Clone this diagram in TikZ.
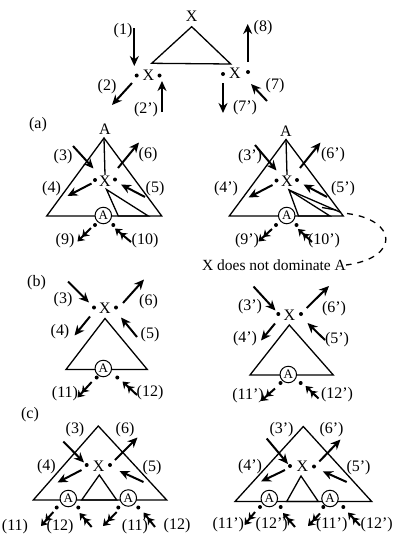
\documentclass[tikz,border=0pt]{standalone}
\usepackage{fontspec}
\setmainfont{Liberation Serif}
\usetikzlibrary{arrows.meta}
\tikzset{
 lbl/.style={inner sep=0pt, font=\fontsize{16}{19}\selectfont},
 tri/.style={line width=1.3pt, line join=miter},
 arr/.style={line width=2pt, -{Stealth[length=10pt,width=9pt]}},
 darr/.style={line width=2pt, -{Stealth[length=6.5pt,width=9pt]Stealth[length=6.5pt,width=9pt]}},
 dotn/.style={circle, fill, inner sep=0pt, minimum size=4pt},
 circA/.style={circle, draw, line width=1pt, fill=white, inner sep=0pt, minimum size=16.5pt, font=\fontsize{13}{15}\selectfont},
}
\newcommand\arw[4][arr]{\coordinate (#2s) at #3; \coordinate (#2e) at #4; \draw[#1] (#2s) -- (#2e);}
\begin{document}
\begin{tikzpicture}[x=1pt,y=-1pt]
\useasboundingbox (0,0) rectangle (394,536);
\fill[white] (0,0) rectangle (394,536);

% ---------- top ----------
\node[lbl] (tX) at (191.7,16) {X};
\draw[tri] (191.7,26.7) -- (151.7,63.3) -- (230.7,64) -- cycle;
\node[lbl] (t1) at (123,31) {(1)};
\arw{a1}{(134.3,28)}{(134.3,66)}
\node[dotn] (tld1) at (136.7,75.5) {};
\node[lbl] (tlX) at (148.3,75.5) {X};
\node[dotn] (tld2) at (159.5,75.5) {};
\node[lbl] (t2) at (107,87) {(2)};
\arw{a2}{(132,83)}{(112,105)}
\node[lbl] (t2p) at (146,110) {(2')};
\arw{a2p}{(162,112)}{(162,81)}
\node[dotn] (trd1) at (223,74) {};
\node[lbl] (trX) at (235,73.5) {X};
\node[dotn] (trd2) at (248,72) {};
\node[lbl] (t8) at (263,28) {(8)};
\arw{a8}{(247.7,62)}{(247.7,24)}
\node[lbl] (t7) at (275,86) {(7)};
\arw{a7}{(267,101)}{(251,84)}
\node[lbl] (t7p) at (245,108) {(7')};
\arw{a7p}{(223,83)}{(223,113)}

% ---------- (a) left ----------
\node[lbl] (la) at (38,125) {(a)};
\node[lbl] (aA) at (105,129) {A};
\draw[tri] (104,138) -- (46.7,216) -- (161.7,216) -- cycle;
\draw[tri] (104,138) -- (105,175);
\node[lbl] (aX) at (105,181.5) {X};
\node[dotn] (ad1) at (95,180) {};
\node[dotn] (ad2) at (115,179.5) {};
\draw[tri] (106.5,189.5) -- (118.3,216) -- (148.3,216) -- cycle;
\node[lbl] (a3) at (63,156.5) {(3)};
\arw{b3}{(73,146)}{(93.5,168.5)}
\node[lbl] (a6) at (148,155) {(6)};
\arw{b6}{(118,168)}{(139,142.5)}
\node[lbl] (a4) at (51.5,188.5) {(4)};
\arw{b4}{(91.5,183.5)}{(67.5,196)}
\node[lbl] (a5) at (155,188.5) {(5)};
\arw{b5}{(145,197)}{(121,184.5)}
\node[circA] (aC) at (103.3,215.5) {A};
\node[dotn] (ad3) at (95,225) {};
\node[dotn] (ad4) at (113.3,225) {};
\node[lbl] (a9) at (65,241) {(9)};
\arw[darr]{b9}{(91,228)}{(77.5,241.5)}
\node[lbl] (a10) at (145,241) {(10)};
\arw[darr]{b10}{(131,242)}{(115,228.5)}

% ---------- (a) right ----------
\node[lbl] (rA) at (286,131) {A};
\draw[tri] (286,139.5) -- (229.3,216) -- (343.3,216) -- cycle;
\draw[tri] (286,139.5) -- (287,175);
\node[lbl] (rX) at (287,181.5) {X};
\node[dotn] (rd1) at (276.5,180.5) {};
\node[dotn] (rd2) at (297,180) {};
\draw[tri] (289,190) -- (298.5,216) -- (330,216) -- cycle;
\draw[tri] (289,190) -- (341,212.5);
\draw[tri] (322,207.5) -- (336,210);
\node[lbl] (r3) at (250,156.5) {(3')};
\arw{c3}{(255,145)}{(276.5,170.5)}
\node[lbl] (r6) at (333,155) {(6')};
\arw{c6}{(300,168)}{(320.5,142.5)}
\node[lbl] (r4) at (226,188.5) {(4')};
\arw{c4}{(272.5,185)}{(248.5,197.5)}
\node[lbl] (r5) at (343,188.5) {(5')};
\arw{c5}{(327,197)}{(303.5,184.5)}
\node[circA] (rC) at (286.7,215.5) {A};
\node[dotn] (rd3) at (276,225) {};
\node[dotn] (rd4) at (296.5,225) {};
\node[lbl] (r9) at (247,241) {(9')};
\arw[darr]{c9}{(272,229)}{(258.5,241.5)}
\node[lbl] (r10) at (324,241) {(10')};
\arw[darr]{c10}{(312,242)}{(298,229)}
\node[lbl, font=\fontsize{15.5}{18}\selectfont] (note) at (274,265) {X does not dominate A};
\coordinate (dstart) at (347,213.5);
\draw[line width=1.3pt, dash pattern=on 6pt off 6pt] (dstart) .. controls (398,220) and (400,258) .. (note.east);

% ---------- (b) left ----------
\node[lbl] (lb) at (36.5,283) {(b)};
\node[lbl] (b3) at (63,300) {(3)};
\arw{d3}{(68,281.5)}{(89,302.5)}
\node[dotn] (bd1) at (94,307.5) {};
\node[lbl] (bX) at (105,308.5) {X};
\node[dotn] (bd2) at (116,307.5) {};
\node[lbl] (b6) at (148.5,302) {(6)};
\arw{d6}{(123,303)}{(144,279.5)}
\node[lbl] (b4) at (60,332) {(4)};
\arw{d4}{(90,316.5)}{(74.5,335.5)}
\node[lbl] (b5) at (150,335) {(5)};
\arw{d5}{(137,337)}{(121,317.5)}
\draw[tri] (105,318.5) -- (66,369.5) -- (147.3,369.5) -- cycle;
\node[circA] (bC) at (103.3,368.5) {A};
\node[dotn] (bd3) at (96.7,377.5) {};
\node[dotn] (bd4) at (117.3,377.5) {};
\node[lbl] (b11) at (65,393.5) {(11)};
\arw[darr]{d11}{(91.7,382)}{(77.5,397.5)}
\node[lbl] (b12) at (150,393) {(12)};
\arw[darr]{d12}{(137,395)}{(122.5,381.5)}

% ---------- (b) right ----------
\node[lbl] (s3) at (250,306.5) {(3')};
\arw{e3}{(253.5,286.5)}{(275.5,310.5)}
\node[dotn] (sd1) at (278.3,314) {};
\node[lbl] (sX) at (289.3,315) {X};
\node[dotn] (sd2) at (301,314) {};
\node[lbl] (s6) at (334,308.5) {(6')};
\arw{e6}{(306.7,308)}{(329,286)}
\node[lbl] (s4) at (245,338.5) {(4')};
\arw{e4}{(275,323.5)}{(261,340.5)}
\node[lbl] (s5) at (337,340) {(5')};
\arw{e5}{(325,340)}{(307.5,323)}
\draw[tri] (289.3,325) -- (250,375) -- (333.3,375) -- cycle;
\node[circA] (sC) at (288.3,374.5) {A};
\node[dotn] (sd3) at (280.5,383) {};
\node[dotn] (sd4) at (300.7,383) {};
\node[lbl] (s11) at (248,396) {(11')};
\arw[darr]{e11}{(275,388.5)}{(261,401)}
\node[lbl] (s12) at (337,395) {(12')};
\arw[darr]{e12}{(318.5,398.5)}{(305.5,386)}

% ---------- (c) left ----------
\node[lbl] (lc) at (30,415) {(c)};
\draw[tri] (98.3,426) -- (33.3,500) -- (166.7,500) -- cycle;
\node[lbl] (c3) at (75,430) {(3)};
\arw{f3}{(63.3,441.5)}{(84,462.5)}
\node[lbl] (c6) at (125,430) {(6)};
\arw{f6}{(115,460)}{(137.5,437.5)}
\node[dotn] (cd1) at (86.7,465) {};
\node[lbl] (cX) at (98.7,466.5) {X};
\node[dotn] (cd2) at (110,465) {};
\node[lbl] (c4) at (46.5,466.5) {(4)};
\arw{f4}{(81.5,470)}{(57.5,482.5)}
\node[lbl] (c5) at (152,468) {(5)};
\arw{f5}{(143.5,482)}{(119.5,471)}
\draw[tri] (99.3,475) -- (81.7,500) -- (116.7,500) -- cycle;
\node[circA] (cC1) at (68.3,498.5) {A};
\node[circA] (cC2) at (128.3,498) {A};
\node[dotn] (cd3) at (56.7,507.5) {};
\node[dotn] (cd4) at (78.3,507.5) {};
\node[dotn] (cd5) at (118.3,507.5) {};
\node[dotn] (cd6) at (138.3,507.5) {};
\node[lbl] (c11a) at (15,527) {(11)};
\arw[darr]{f11a}{(53.3,512)}{(41,526)}
\node[lbl] (c12a) at (60,527) {(12)};
\arw[darr]{f12a}{(91.7,527)}{(79.5,513)}
\node[lbl] (c11b) at (135,526.5) {(11)};
\arw[darr]{f11b}{(116.7,512)}{(103,526)}
\node[lbl] (c12b) at (177,525.5) {(12)};
\arw[darr]{f12b}{(155,527)}{(143.5,512.5)}

% ---------- (c) right ----------
\draw[tri] (303.3,426.5) -- (235,501.5) -- (371.7,501.5) -- cycle;
\node[lbl] (u3) at (281.5,430) {(3')};
\arw{g3}{(266.7,438.5)}{(288,464)}
\node[lbl] (u6) at (331.5,430) {(6')};
\arw{g6}{(319.3,461.5)}{(340.5,439.5)}
\node[dotn] (ud1) at (290,466) {};
\node[lbl] (uX) at (302.3,466.5) {X};
\node[dotn] (ud2) at (314,466.5) {};
\node[lbl] (u4) at (250,466.5) {(4')};
\arw{g4}{(285,470)}{(261,481.5)}
\node[lbl] (u5) at (358.5,468) {(5')};
\arw{g5}{(346.7,482)}{(322.8,471.3)}
\draw[tri] (301,476) -- (286.7,501.5) -- (318.3,501.5) -- cycle;
\node[circA] (uC1) at (269.3,498.5) {A};
\node[circA] (uC2) at (330,498.5) {A};
\node[dotn] (ud3) at (260,507) {};
\node[dotn] (ud4) at (280.7,507) {};
\node[dotn] (ud5) at (323.3,507) {};
\node[dotn] (ud6) at (343.3,507) {};
\node[lbl] (u11a) at (228.3,525) {(11')};
\arw[darr]{g11a}{(255,512)}{(244.5,525)}
\node[lbl] (u12a) at (271.7,525) {(12')};
\arw[darr]{g12a}{(295,527)}{(283,513)}
\node[lbl] (u11b) at (331.7,525) {(11')};
\arw[darr]{g11b}{(320,513.5)}{(308,526)}
\node[lbl] (u12b) at (376.7,525) {(12')};
\arw[darr]{g12b}{(360,525.5)}{(348,512.5)}
\end{tikzpicture}
\end{document}
